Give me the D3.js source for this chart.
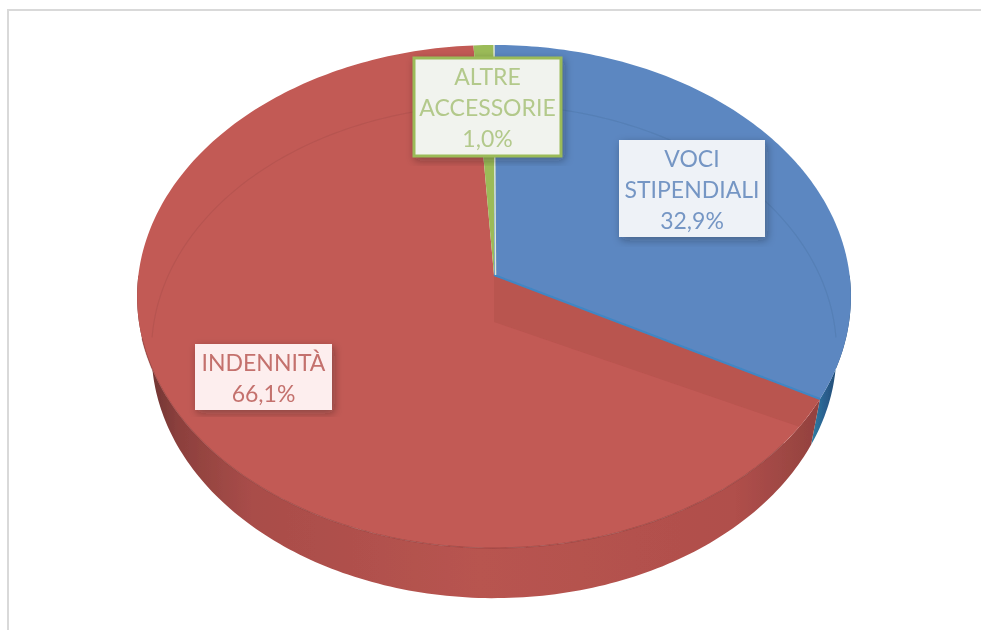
<!DOCTYPE html>
<meta charset="utf-8">
<style>
html, body { margin: 0; background: #fff; }
svg { display: block; font-family: Lato, sans-serif; }
.label text { font-size: 23px; text-anchor: middle; }
</style>
<svg width="981" height="630"></svg>
<script src="https://d3js.org/d3.v7.min.js"></script>
<script>

var categories = ["VOCI STIPENDIALI", "INDENNITÀ", "ALTRE ACCESSORIE"];
var values = [32.9, 66.1, 1.0];
var faceColors = ["#5b87c1", "#c25a55", "#9bbb59"];
var textColors = ["#7596c4", "#c4716d", "#b3c98b"];
var boxFills = ["#eef2f7", "#fdeeee", "#f1f3ee"];
var boxStrokes = ["none", "none", "#9bbb59"];

var svg = d3.select("svg");
var defs = svg.append("defs");

var soft = defs.append("filter").attr("id", "soft");
soft.append("feGaussianBlur").attr("stdDeviation", 0.7);

function gradient(id, stops, x1, x2) {
  var g = defs.append("linearGradient").attr("id", id)
      .attr("gradientUnits", "userSpaceOnUse")
      .attr("x1", x1).attr("x2", x2).attr("y1", 0).attr("y2", 0);
  stops.forEach(function(s) {
    g.append("stop").attr("offset", s[0]).attr("stop-color", s[1]);
  });
}
gradient("wallRed", [[0, "#6b3331"], [0.05, "#8c403d"], [0.16, "#a94d49"], [0.5, "#b85450"], [0.88, "#b04f4b"], [1, "#94423f"]], 145, 815);
gradient("wallBlue", [[0, "#2f86a8"], [0.5, "#2b5f8f"], [1, "#1f4468"]], 808, 842);

// perspective disc: the rim closest to the viewer comes out larger
function disc(cx, cy, a, b, p) {
  return function(angle) {
    var u = Math.sin(angle), v = -Math.cos(angle), w = 1 - p * v;
    return [cx + a * u / w, cy + b * v / w];
  };
}
var topRim = disc(494, 275, 355.6, 249.7, 0.0855);
var lowRim = disc(494, 322, 340, 243, 0.12);

var line = d3.line();

function arcPoints(rim, a0, a1) {
  var n = Math.max(2, Math.ceil(Math.abs(a1 - a0) * 60));
  return d3.range(n + 1).map(function(i) { return rim(a0 + (a1 - a0) * i / n); });
}

var arcs = d3.pie().sort(null).startAngle(0).endAngle(2 * Math.PI)(values);

var chart = svg.append("g").attr("filter", "url(#soft)");

// frame of the picture
chart.append("path")
    .attr("d", line([[8, 630], [8, 10], [981, 10]]))
    .attr("fill", "none").attr("stroke", "#d9d9d9").attr("stroke-width", 2);

// outer wall, only the front half of the disc shows it
var front = [Math.PI / 2, 3 * Math.PI / 2];
var walls = arcs.map(function(d) {
  return [Math.max(d.startAngle, front[0]), Math.min(d.endAngle, front[1])];
});
chart.selectAll(".wall")
    .data(walls.filter(function(w) { return w[1] > w[0]; }))
    .enter().append("path")
    .attr("class", "wall")
    .attr("d", function(w) {
      return line(arcPoints(topRim, w[0], w[1]).concat(arcPoints(lowRim, w[1], w[0]))) + "Z";
    })
    .attr("fill", function(w, i) { return i === 0 ? "url(#wallBlue)" : "url(#wallRed)"; });

// top faces
chart.selectAll(".face")
    .data(arcs)
    .enter().append("path")
    .attr("class", "face")
    .attr("d", function(d) {
      return line([[494, 275]].concat(arcPoints(topRim, d.startAngle, d.endAngle))) + "Z";
    })
    .attr("fill", function(d, i) { return faceColors[i]; });

// cut wall of the red slice, seen along the blue edge, stops on the rim
var cut = arcs[0].endAngle;
chart.append("path")
    .attr("d", line([[494, 275], topRim(cut), topRim(cut + 0.12), [494, 322]]) + "Z")
    .attr("fill", "#b9544f");

// edge highlights
chart.append("path")
    .attr("d", line([[494, 275], topRim(cut)]))
    .attr("fill", "none").attr("stroke", "#3f86c4").attr("stroke-width", 2);
chart.append("path")
    .attr("d", line([[495.5, 275], topRim(0)]))
    .attr("fill", "none").attr("stroke", "#dfe9d2").attr("stroke-width", 1.5);

// rim lines
chart.append("path")
    .attr("d", line(arcPoints(topRim, Math.PI * 0.72, Math.PI * 1.42)))
    .attr("fill", "none").attr("stroke", "#8f3f3c").attr("stroke-width", 1.2).attr("stroke-opacity", 0.6);
chart.append("path")
    .attr("d", line(arcPoints(lowRim, -Math.PI * 0.52, Math.PI * 0.52)))
    .attr("fill", "none").attr("stroke", "#000").attr("stroke-width", 1.2).attr("stroke-opacity", 0.06);

// data labels
var boxes = [
  { x: 619, y: 140, w: 146, h: 97 },
  { x: 195, y: 344, w: 137, h: 66 },
  { x: 414, y: 58, w: 147, h: 98 }
];

var labels = svg.selectAll(".label")
    .data(arcs)
    .enter().append("g")
    .attr("class", "label")
    .attr("filter", "url(#soft)");

labels.append("rect")
    .attr("x", function(d, i) { return boxes[i].x; })
    .attr("y", function(d, i) { return boxes[i].y; })
    .attr("width", function(d, i) { return boxes[i].w; })
    .attr("height", function(d, i) { return boxes[i].h; })
    .attr("fill", function(d, i) { return boxFills[i]; })
    .attr("stroke", function(d, i) { return boxStrokes[i]; })
    .attr("stroke-width", 3)
    .style("filter", "drop-shadow(2px 3px 4px rgba(30,30,30,.35))");

labels.each(function(d, i) {
  var rows = categories[i].split(" ").concat(d.value.toFixed(1).replace(".", ",") + "%");
  var b = boxes[i];
  var rowHeight = 31;
  var first = b.y + b.h / 2 - rowHeight * (rows.length - 1) / 2 + 9;
  d3.select(this).selectAll("text")
      .data(rows)
      .enter().append("text")
      .attr("x", b.x + b.w / 2)
      .attr("y", function(r, k) { return first + k * rowHeight; })
      .attr("fill", textColors[i])
      .text(function(r) { return r; });
});

</script>
